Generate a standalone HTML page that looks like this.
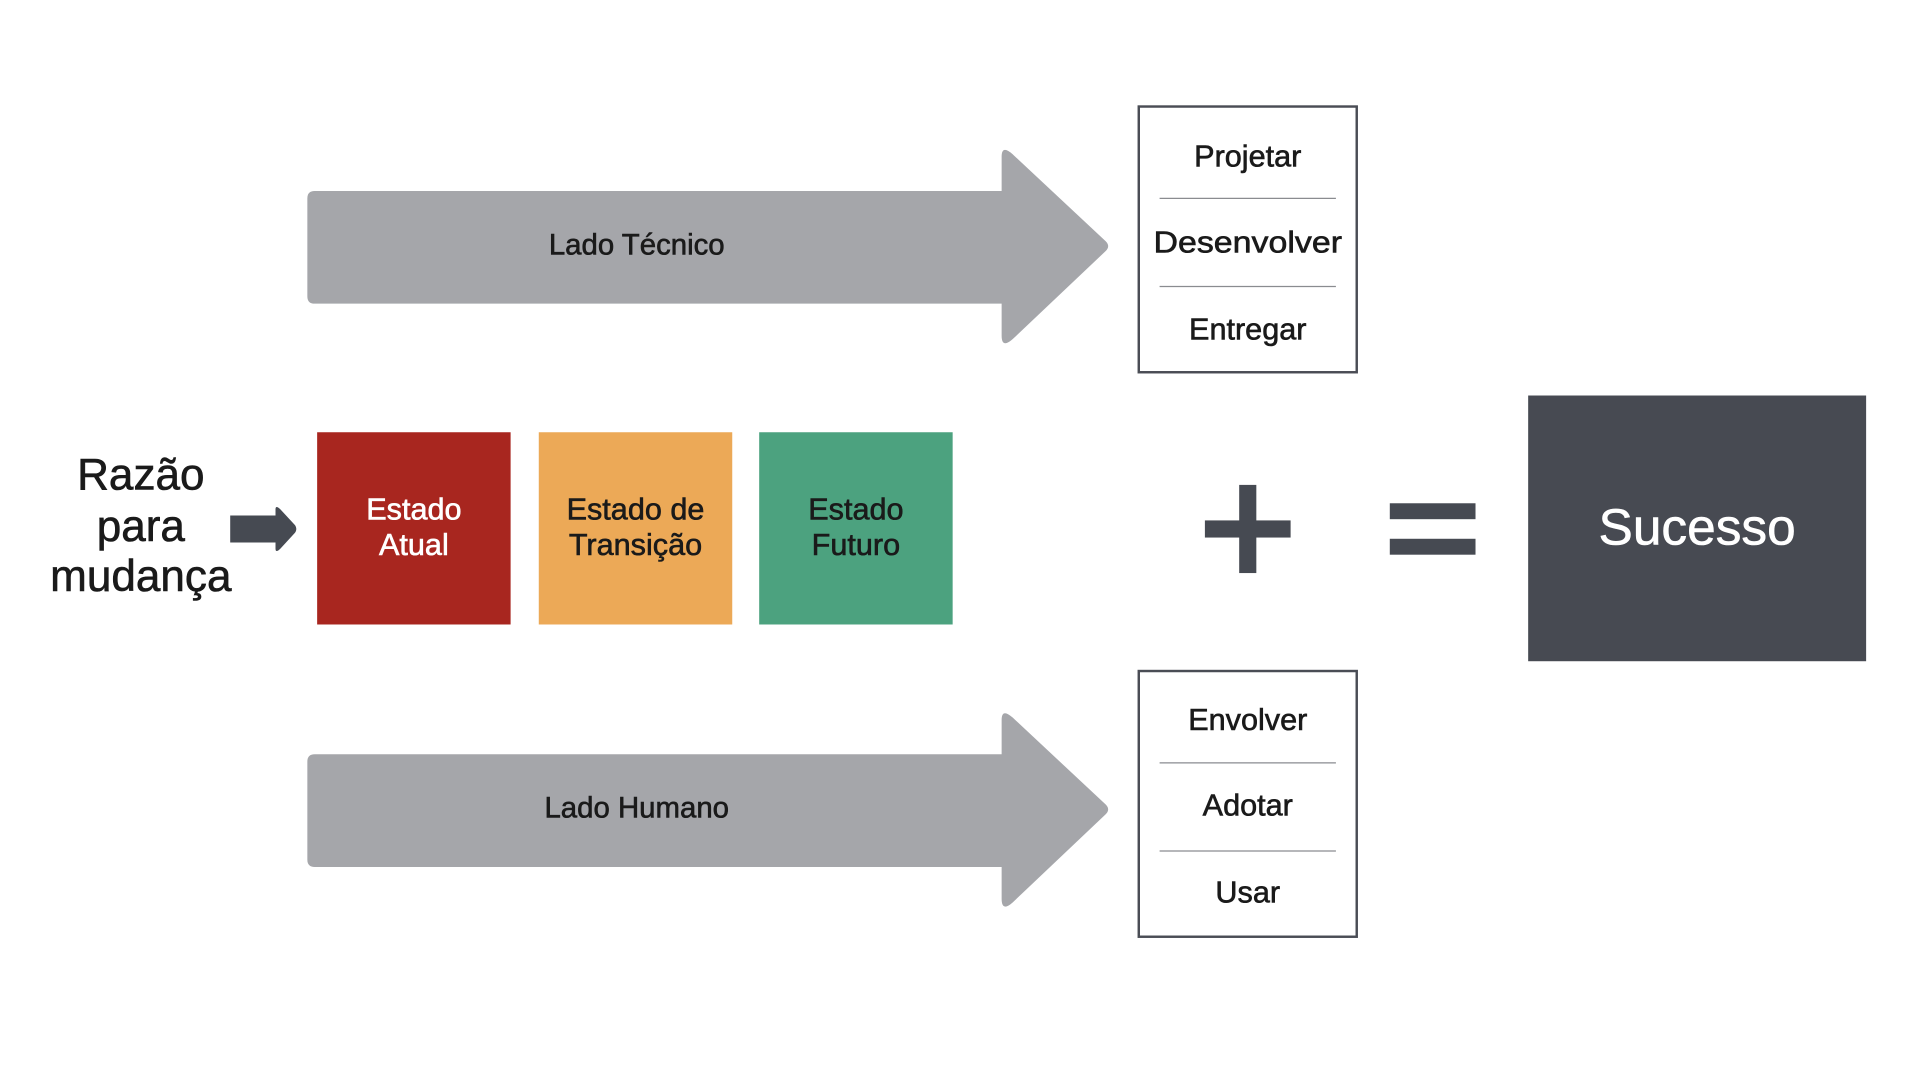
<!DOCTYPE html>
<html><head><meta charset="utf-8"><style>
html,body{margin:0;padding:0;background:#fff;width:1920px;height:1080px;overflow:hidden}
svg{display:block}
text{font-family:"Liberation Sans",sans-serif;text-anchor:middle;dominant-baseline:central;stroke-width:0.5}
</style></head><body>
<svg width="1920" height="1080" viewBox="0 0 1568 882" xmlns="http://www.w3.org/2000/svg">
<g fill="#a5a6aa">
<path d="M257,156 H818 V128 Q818,118 827,126 L903,197 Q907,201 903,205 L827,277 Q818,285 818,274 V248 H257 Q251,248 251,242 V162 Q251,156 257,156Z"/>
<path d="M257,616 H818 V588 Q818,578 827,586 L903,657 Q907,661 903,665 L827,737 Q818,745 818,734 V708 H257 Q251,708 251,702 V622 Q251,616 257,616Z"/>
</g>
<text x="520" y="200" font-size="24" fill="#1a1a1a" stroke="#1a1a1a">Lado Técnico</text>
<text x="520" y="660" font-size="24" fill="#1a1a1a" stroke="#1a1a1a">Lado Humano</text>
<g fill="none" stroke="#4a4d55" stroke-width="2">
<rect x="930" y="87" width="178" height="217"/>
<rect x="930" y="548" width="178" height="217"/>
</g>
<g stroke="#8a8c90" stroke-width="1">
<line x1="947" y1="162" x2="1091" y2="162"/><line x1="947" y1="234" x2="1091" y2="234"/>
<line x1="947" y1="623" x2="1091" y2="623"/><line x1="947" y1="695" x2="1091" y2="695"/>
</g>
<g font-size="25" fill="#1a1a1a" stroke="#1a1a1a">
<text x="1019" y="128">Projetar</text><text x="1019" y="198" textLength="154" lengthAdjust="spacingAndGlyphs">Desenvolver</text><text x="1019" y="269">Entregar</text>
<text x="1019" y="588">Envolver</text><text x="1019" y="658">Adotar</text><text x="1019" y="729">Usar</text>
</g>
<g font-size="36" fill="#1a1a1a" stroke="#1a1a1a" stroke-width="0.6">
<text x="115" y="388">Razão</text><text x="115" y="430">para</text><text x="115" y="471">mudança</text>
</g>
<path d="M188,421 H225 V416 Q225,412 229,416 L241,429 Q243,432 241,435 L229,448 Q225,452 225,448 V443 H188Z" fill="#464a52"/>
<rect x="259" y="353" width="158" height="157" fill="#a8261f"/>
<rect x="440" y="353" width="158" height="157" fill="#eca957"/>
<rect x="620" y="353" width="158" height="157" fill="#4ca27f"/>
<g font-size="25">
<text x="338" y="416" fill="#fff" stroke="#fff">Estado</text><text x="338" y="445" fill="#fff" stroke="#fff">Atual</text>
<text x="519" y="416" fill="#1a1a1a" stroke="#1a1a1a">Estado de</text><text x="519" y="445" fill="#1a1a1a" stroke="#1a1a1a">Transição</text>
<text x="699" y="416" fill="#1a1a1a" stroke="#1a1a1a">Estado</text><text x="699" y="445" fill="#1a1a1a" stroke="#1a1a1a">Futuro</text>
</g>
<g fill="#464a52">
<rect x="1012" y="396" width="14" height="72"/><rect x="984" y="425" width="70" height="14"/>
<rect x="1135" y="411" width="70" height="13"/><rect x="1135" y="440" width="70" height="13"/>
<rect x="1248" y="323" width="276" height="217" fill="#474a52"/>
</g>
<text x="1386" y="430" font-size="42" fill="#fff" stroke="#fff" stroke-width="0.6">Sucesso</text>
</svg>
</body></html>
